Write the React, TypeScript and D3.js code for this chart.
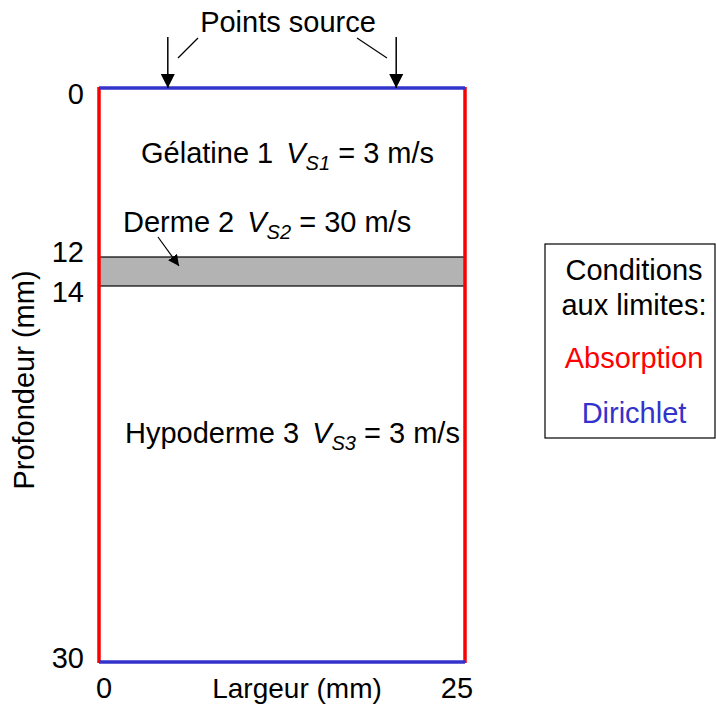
import React, { useEffect, useRef } from 'react';
import * as d3 from 'd3';

// Layers (depth in mm) and their shear wave speeds
const layerNames = ['Gélatine 1', 'Derme 2', 'Hypoderme 3'];
const layerSubs = ['S1', 'S2', 'S3'];
const layerSpeeds = [3, 30, 3];
const dermeBand = [12, 14];
const depthTicks = [0, 12, 14, 30];
const widthTicks = [0, 25];
const sourcePoints = [4.7, 20.3];
const legendLines = ['Conditions', 'aux limites:'];
const legendItems = ['Absorption', 'Dirichlet'];
const legendColors = ['#ff0000', '#3333cc'];

const App: React.FC = () => {
  const svgRef = useRef<SVGSVGElement>(null);

  useEffect(() => {
    if (!svgRef.current) return;
    const svg = d3.select(svgRef.current);
    svg.selectAll('*').remove();

    const font = '"Liberation Sans", Arial, sans-serif';
    const fs = 29;
    // diagram is not drawn to scale: piecewise depth axis
    const x = d3.scaleLinear().domain([0, 25]).range([99, 465]);
    const y = d3.scaleLinear().domain([0, 12, 14, 30]).range([88, 257, 286, 662]);

    const defs = svg.append('defs');
    const mk = (id: string, size: number) =>
      defs.append('marker')
        .attr('id', id)
        .attr('viewBox', '0 0 10 10')
        .attr('refX', 10).attr('refY', 5)
        .attr('markerWidth', size).attr('markerHeight', size)
        .attr('markerUnits', 'userSpaceOnUse')
        .attr('orient', 'auto')
        .append('path').attr('d', 'M0,0 L10,5 L0,10 Z').attr('fill', '#000');
    mk('ah', 11);
    mk('ah2', 14);

    // derme band
    svg.append('rect')
      .attr('x', x(0)).attr('y', y(dermeBand[0]))
      .attr('width', x(25) - x(0)).attr('height', y(dermeBand[1]) - y(dermeBand[0]))
      .attr('fill', '#b3b3b3').attr('stroke', '#000').attr('stroke-width', 1.2);

    // boundaries: absorption (sides), dirichlet (top/bottom)
    [0, 25].forEach(v => {
      svg.append('line')
        .attr('x1', x(v)).attr('x2', x(v)).attr('y1', y(0) - 1).attr('y2', y(30) + 1)
        .attr('stroke', legendColors[0]).attr('stroke-width', 3.5);
    });
    [0, 30].forEach(v => {
      svg.append('line')
        .attr('x1', x(0)).attr('x2', x(25)).attr('y1', y(v)).attr('y2', y(v))
        .attr('stroke', legendColors[1]).attr('stroke-width', 3.5);
    });

    // source arrows
    sourcePoints.forEach(p => {
      svg.append('line')
        .attr('x1', x(p)).attr('x2', x(p)).attr('y1', 37).attr('y2', y(0))
        .attr('stroke', '#000').attr('stroke-width', 1.5)
        .attr('marker-end', 'url(#ah2)');
    });
    svg.append('line').attr('x1', 178).attr('y1', 58).attr('x2', 198).attr('y2', 38)
      .attr('stroke', '#000').attr('stroke-width', 1.2);
    svg.append('line').attr('x1', 357).attr('y1', 38).attr('x2', 387).attr('y2', 58)
      .attr('stroke', '#000').attr('stroke-width', 1.2);
    svg.append('text').attr('x', 288).attr('y', 32).attr('text-anchor', 'middle')
      .attr('font-family', font).attr('font-size', fs).text('Points source');

    // derme arrow
    svg.append('line').attr('x1', 158).attr('y1', 237).attr('x2', 179).attr('y2', 266)
      .attr('stroke', '#000').attr('stroke-width', 1.2)
      .attr('marker-end', 'url(#ah)');

    // layer labels
    const labelPos = [
      { x: 141, y: 163 },
      { x: 123, y: 232 },
      { x: 125, y: 443 },
    ];
    layerNames.forEach((name, i) => {
      const t = svg.append('text')
        .attr('x', labelPos[i].x).attr('y', labelPos[i].y)
        .attr('font-family', font).attr('font-size', fs).attr('fill', '#000');
      t.append('tspan').text(name + ' ');
      t.append('tspan').attr('dx', 5).attr('font-style', 'italic').text('V');
      t.append('tspan').attr('font-style', 'italic').attr('font-size', 20).attr('dy', 7).text(layerSubs[i]);
      t.append('tspan').attr('dy', -7).text(` = ${layerSpeeds[i]} m/s`);
    });

    // depth ticks
    const tickBase: Record<number, number> = { 0: 104, 12: 262, 14: 302, 30: 668 };
    svg.selectAll('text.dt').data(depthTicks).enter().append('text')
      .attr('class', 'dt')
      .attr('x', 84).attr('y', d => tickBase[d])
      .attr('text-anchor', 'end')
      .attr('font-family', font).attr('font-size', fs).text(d => d);
    svg.selectAll('text.wt').data(widthTicks).enter().append('text')
      .attr('class', 'wt')
      .attr('x', d => x(d) + (d === 0 ? 5 : -8)).attr('y', 698)
      .attr('text-anchor', 'middle')
      .attr('font-family', font).attr('font-size', fs).text(d => d);

    svg.append('text').attr('x', 297).attr('y', 698).attr('text-anchor', 'middle')
      .attr('font-family', font).attr('font-size', 28).text('Largeur (mm)');
    svg.append('text')
      .attr('transform', `translate(34, ${380}) rotate(-90)`)
      .attr('text-anchor', 'middle')
      .attr('font-family', font).attr('font-size', fs).text('Profondeur (mm)');

    // legend
    svg.append('rect').attr('x', 545).attr('y', 244).attr('width', 170).attr('height', 194)
      .attr('fill', 'none').attr('stroke', '#000').attr('stroke-width', 1.2);
    legendLines.forEach((l, i) => {
      svg.append('text').attr('x', 634).attr('y', 280 + i * 35).attr('text-anchor', 'middle')
        .attr('font-family', font).attr('font-size', fs).text(l);
    });
    legendItems.forEach((l, i) => {
      svg.append('text').attr('x', 634).attr('y', 368 + i * 55).attr('text-anchor', 'middle')
        .attr('font-family', font).attr('font-size', fs).attr('fill', legendColors[i]).text(l);
    });
  }, []);

  return (
    <svg
      ref={svgRef}
      width={716}
      height={704}
      style={{ position: 'absolute', left: 0, top: 0, background: '#fff' }}
    />
  );
};

export default App;
